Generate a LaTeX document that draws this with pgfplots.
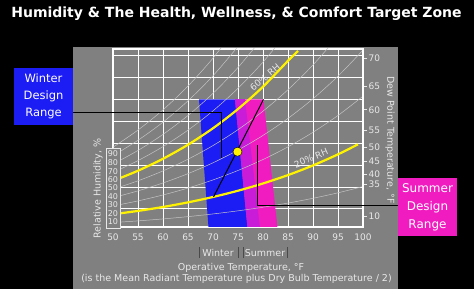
\documentclass[border=0pt]{standalone}
\usepackage{pgfplots}
\pgfplotsset{compat=1.18}
\usepackage{fontspec}
\setmainfont{DejaVu Sans}
\definecolor{panel}{HTML}{808080}
\definecolor{wblue}{HTML}{1C1CF5}
\definecolor{spink}{HTML}{F01CC0}
\definecolor{ovl}{HTML}{C81CD8}
\definecolor{ticktxt}{HTML}{E8E8E8}
\definecolor{faint}{HTML}{C4C4C4}
\definecolor{bar}{HTML}{4A4A4A}
\begin{document}
\begin{tikzpicture}
\useasboundingbox (0,0) rectangle (474pt,289pt);
\fill[black] (0,0) rectangle (474pt,289pt);
\fill[panel] (73pt,0) rectangle (398pt,242pt);
\begin{axis}[at={(113pt,62pt)}, anchor=south west, scale only axis,
  width=250pt, height=178pt,
  xmin=50, xmax=100, ymin=0.00035, ymax=0.0166,
  xtick={50,55,...,100},
  ytick={0.002,0.004,0.006,0.008,0.010,0.012,0.014,0.016}, yticklabels={},
  scaled y ticks=false,
  grid=major, grid style={white, line width=1pt},
  axis line style={white, line width=1.1pt},
  major tick length=0pt,
  xticklabel style={font=\fontsize{9}{10}\selectfont, text=ticktxt, yshift=-3pt},
  /pgf/number format/assume math mode=true,
  clip=true]
% winter and summer design ranges
\addplot[fill=wblue, draw=none] coordinates {(67.2,0.0120) (76.4,0.0120) (79.4,0.0003) (69.1,0.0003)} -- cycle;
\addplot[fill=spink, draw=none] coordinates {(74.4,0.0120) (80.1,0.0120) (82.9,0.0003) (76.9,0.0003)} -- cycle;
\addplot[fill=ovl, draw=none] coordinates {(74.4,0.0120) (76.4,0.0120) (79.4,0.0003) (76.9,0.0003)} -- cycle;
% faint RH curves
\addplot[faint, line width=0.5pt, smooth] coordinates {(50,0.000755)(55,0.000908)(60,0.001087)(65,0.001297)(70,0.001542)(75,0.001826)(80,0.002155)(85,0.002535)(90,0.002971)(95,0.003472)(100,0.004044)};
\addplot[faint, line width=0.5pt, smooth] coordinates {(50,0.002270)(55,0.002732)(60,0.003273)(65,0.003907)(70,0.004648)(75,0.005510)(80,0.006511)(85,0.007667)(90,0.009000)(95,0.010533)(100,0.012291)};
\addplot[faint, line width=0.5pt, smooth] coordinates {(50,0.003030)(55,0.003648)(60,0.004371)(65,0.005220)(70,0.006213)(75,0.007369)(80,0.008711)(85,0.010265)(90,0.012058)(95,0.014124)(100,0.016497)};
\addplot[faint, line width=0.5pt, smooth] coordinates {(50,0.003793)(55,0.004567)(60,0.005473)(65,0.006539)(70,0.007785)(75,0.009238)(80,0.010927)(85,0.012884)(90,0.015146)(95,0.017756)};
\addplot[faint, line width=0.5pt, smooth] coordinates {(50,0.005323)(55,0.006412)(60,0.007690)(65,0.009193)(70,0.010954)(75,0.013011)(80,0.015406)(85,0.018189)};
\addplot[faint, line width=0.5pt, smooth] coordinates {(50,0.006091)(55,0.007339)(60,0.008804)(65,0.010529)(70,0.012551)(75,0.014914)(80,0.017670)};
\addplot[faint, line width=0.5pt, smooth] coordinates {(50,0.006860)(55,0.008269)(60,0.009922)(65,0.011870)(70,0.014155)(75,0.016829)};
\addplot[faint, line width=0.5pt, smooth] coordinates {(50,0.007632)(55,0.009201)(60,0.011044)(65,0.013217)(70,0.015768)(75,0.018755)};
% highlighted 20% and 60% RH
\addplot[yellow, line width=2.2pt, smooth] coordinates {(50,0.001512)(55,0.001819)(60,0.002178)(65,0.002599)(70,0.003091)(75,0.003663)(80,0.004325)(85,0.005090)(90,0.005971)(95,0.006983)(99,0.007898)};
\addplot[yellow, line width=2.2pt, smooth] coordinates {(50,0.004557)(55,0.005488)(60,0.006580)(65,0.007863)(70,0.009366)(75,0.011119)(80,0.013159)(85,0.015525)(87,0.016420)};
\node[ticktxt, font=\fontsize{9}{10}\selectfont, rotate=40] at (axis cs:80.4,0.01400) {60\% RH};
\node[ticktxt, font=\fontsize{9}{10}\selectfont, rotate=23] at (axis cs:89.6,0.00665) {20\% RH};
\end{axis}
\begin{axis}[at={(113pt,62pt)}, anchor=south west, scale only axis,
  width=250pt, height=178pt,
  xmin=50, xmax=100, ymin=0.00035, ymax=0.0166,
  axis x line=none, axis y line*=right,
  scaled y ticks=false,
  ytick={0.015768,0.013217,0.011044,0.009201,0.007632,0.006307,0.005195,0.004261,0.001332},
  yticklabels={70,65,60,55,50,45,40,35,10},
  axis line style={white, line width=1.1pt},
  tick align=outside, major tick length=4pt,
  tick style={ticktxt, line width=0.8pt},
  yticklabel style={font=\fontsize{9}{10}\selectfont, text=ticktxt, xshift=-2pt},
  clip=false]
% leader lines
\addplot[black, line width=1pt] coordinates {(42,0.01084) (71.6,0.01084) (71.6,0.00661)};
\addplot[black, line width=1pt] coordinates {(78.9,0.00783) (78.9,0.00235) (107,0.00235)};
\addplot[black, line width=1pt] coordinates {(70.1,0.00309) (80.1,0.0120)};
\addplot[only marks, mark=*, mark size=4.5pt, mark options={fill=yellow, draw=black, line width=0.4pt}] coordinates {(74.9,0.00722)};
% relative humidity scale box
\addplot[fill=panel, draw=ticktxt, line width=0.6pt] coordinates {(48.6,0.007527) (51.4,0.007527) (51.4,0.00023) (48.6,0.00023)} -- cycle;
\foreach \w/\l in {0.007007/90,0.006214/80,0.005392/70,0.004635/60,0.003933/50,0.003111/40,0.002354/30,0.001597/20,0.000830/10}{
  \edef\temp{\noexpand\node[ticktxt, font=\noexpand\fontsize{8}{9}\noexpand\selectfont] at (axis cs:50,\w) {\l};}
  \temp
}
% season range bars
\addplot[bar, line width=0.9pt] coordinates {(67.2,-0.00148) (67.2,-0.00248)};
\addplot[bar, line width=0.9pt] coordinates {(75.1,-0.00148) (75.1,-0.00248)};
\addplot[bar, line width=0.9pt] coordinates {(76.1,-0.00148) (76.1,-0.00248)};
\addplot[bar, line width=0.9pt] coordinates {(84.8,-0.00148) (84.8,-0.00248)};
\end{axis}
% texts
\node[white, font=\bfseries\fontsize{14}{16}\selectfont] at (236.5pt,275pt) {Humidity \& The Health, Wellness, \& Comfort Target Zone};
\node[fill=wblue, minimum width=59pt, minimum height=57pt, inner sep=0pt, text=white, align=center, font=\fontsize{11.5}{17.3}\selectfont] at (43.5pt,192.5pt) {Winter\\Design\\Range};
\node[fill=spink, minimum width=59pt, minimum height=58pt, inner sep=0pt, text=white, align=center, font=\fontsize{12}{17.8}\selectfont] at (427.5pt,82pt) {Summer\\Design\\Range};
\node[ticktxt, font=\fontsize{9.5}{11}\selectfont] at (218pt,36pt) {Winter};
\node[ticktxt, font=\fontsize{9.5}{11}\selectfont] at (265pt,36pt) {Summer};
\node[ticktxt, font=\fontsize{9.5}{11}\selectfont] at (241pt,21pt) {Operative Temperature, °F};
\node[ticktxt, font=\fontsize{9.5}{11}\selectfont] at (236.5pt,10.5pt) {(is the Mean Radiant Temperature plus Dry Bulb Temperature / 2)};
\node[ticktxt, font=\fontsize{9.5}{11}\selectfont, rotate=90] at (98pt,100.5pt) {Relative Humidity, \%};
\node[ticktxt, font=\fontsize{9.5}{11}\selectfont, rotate=-90] at (390pt,149pt) {Dew Point Temperature, °F};
\end{tikzpicture}
\end{document}
